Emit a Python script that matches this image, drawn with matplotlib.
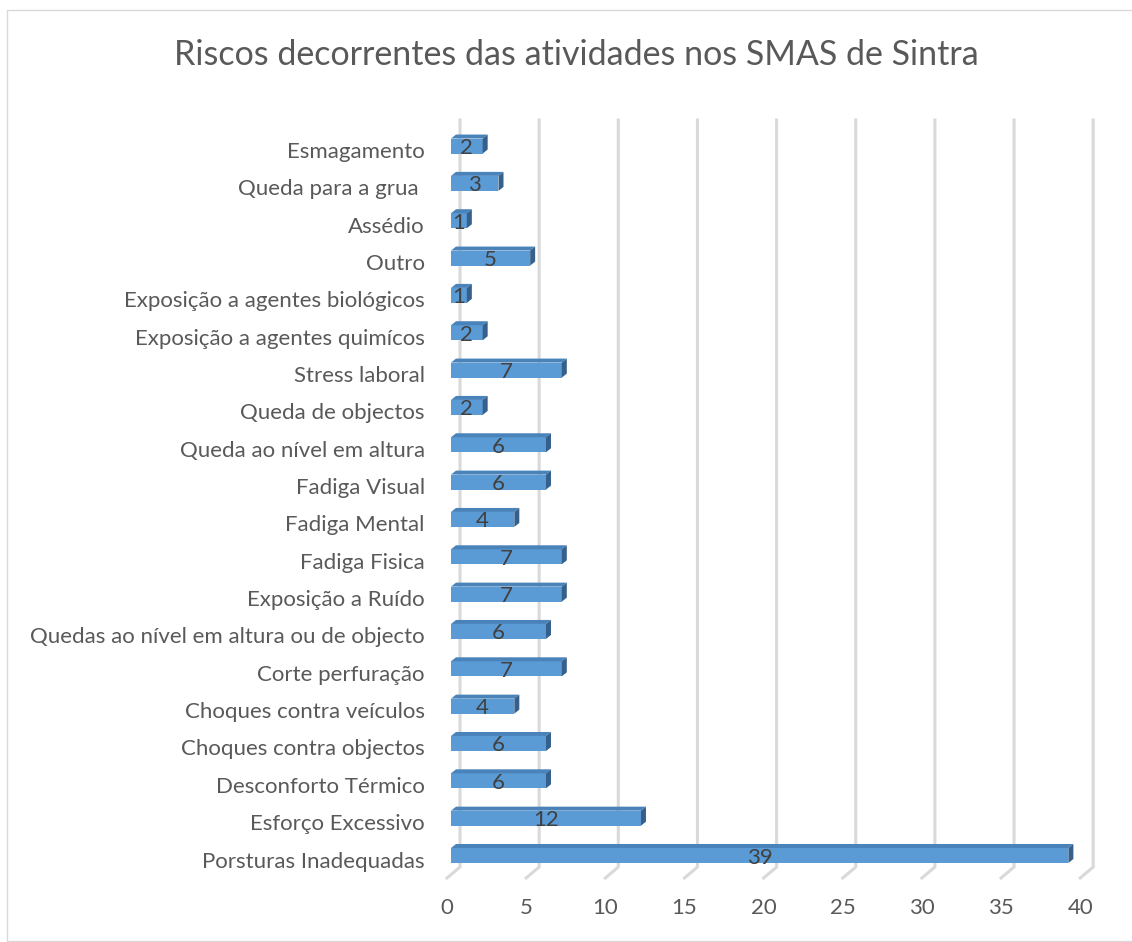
import matplotlib
matplotlib.use("Agg")
import matplotlib.pyplot as plt
from matplotlib.patches import Polygon, Rectangle
from matplotlib.transforms import ScaledTranslation

# === DATA (bottom to top) ===
CATEGORIES = [
    "Porsturas Inadequadas",
    "Esforço Excessivo",
    "Desconforto Térmico",
    "Choques contra objectos",
    "Choques contra veículos",
    "Corte perfuração",
    "Quedas ao nível em altura ou de objecto",
    "Exposição a Ruído",
    "Fadiga Fisica",
    "Fadiga Mental",
    "Fadiga Visual",
    "Queda ao nível em altura",
    "Queda de objectos",
    "Stress laboral",
    "Exposição a agentes quimícos",
    "Exposição a agentes biológicos",
    "Outro",
    "Assédio",
    "Queda para a grua ",
    "Esmagamento",
]
VALUES = [39, 12, 6, 6, 4, 7, 6, 7, 7, 4, 6, 6, 2, 7, 2, 1, 5, 1, 3, 2]
X_TICKS = [0, 5, 10, 15, 20, 25, 30, 35, 40]
TITLE = "Riscos decorrentes das atividades nos SMAS de Sintra"

# === STYLE ===
FRONT = "#5B9BD5"
TOP = "#4A82BA"
SIDE = "#35608C"
GRID = "#D9D9D9"
TEXT = "#595959"
LABEL = "#404040"
FONT = "Lato"

W, H, DPI = 1132, 942, 100
PX = 15.83   # pixels per x unit
PY = 37.34   # pixels per category
X0_PX = 451  # pixel of x=0 (bar front)
Y0_PX = 855.5  # pixel of first category centre

plt.rcParams["font.family"] = [FONT, "DejaVu Sans"]

fig = plt.figure(figsize=(W / DPI, H / DPI), dpi=DPI)
left_px, right_px, top_px, bot_px = 440, 1110, 110, 890
ax = fig.add_axes([left_px / W, (H - bot_px) / H,
                   (right_px - left_px) / W, (bot_px - top_px) / H])
ax.set_xlim((left_px - X0_PX) / PX, (right_px - X0_PX) / PX)
ax.set_ylim((Y0_PX - bot_px) / PY, (Y0_PX - top_px) / PY)


def dx(px):
    return px / PX


def dy(px):
    return px / PY


# 3D-style gridlines: back wall + floor slant
y_top = (Y0_PX - 120) / PY
y_back = (Y0_PX - 867) / PY
y_front = (Y0_PX - 878) / PY
for t in X_TICKS:
    xb = t + dx(9)
    xf = t + dx(-4)
    ax.plot([xb, xb, xf], [y_top, y_back, y_front], color=GRID, lw=2.2,
            solid_joinstyle="miter", zorder=1)

# bars
h = dy(15)
ddx, ddy = dx(5), dy(4)
ypos = list(range(len(CATEGORIES)))
ax.barh(ypos, VALUES, height=h, color=FRONT, zorder=3)
for y, v in zip(ypos, VALUES):
    yt = y + h / 2
    yb = y - h / 2
    ax.add_patch(Polygon([(0, yt), (v, yt), (v + ddx, yt + ddy), (ddx, yt + ddy)],
                         closed=True, facecolor=TOP, edgecolor="none", zorder=3))
    ax.add_patch(Polygon([(v, yb), (v, yt), (v + ddx, yt + ddy), (v + ddx, yb + ddy)],
                         closed=True, facecolor=SIDE, edgecolor="none", zorder=3))
    ax.text(v / 2, y - dy(2), str(v), ha="center", va="center",
            fontsize=16, color=LABEL, zorder=4)

# axes ticks
ax.set_yticks(ypos)
ax.set_yticklabels(CATEGORIES, fontsize=16, color=TEXT)
ax.set_xticks(X_TICKS)
ax.set_xticklabels([str(t) for t in X_TICKS], fontsize=16, color=TEXT)
ax.tick_params(axis="y", length=0, pad=11)
ax.tick_params(axis="x", length=0, pad=6)
for lab in ax.get_xticklabels():
    lab.set_transform(lab.get_transform() + ScaledTranslation(-4 / DPI, 0, fig.dpi_scale_trans))
for lab in ax.get_yticklabels():
    lab.set_transform(lab.get_transform() + ScaledTranslation(0, -4 / DPI, fig.dpi_scale_trans))
for s in ax.spines.values():
    s.set_visible(False)

fig.text(576 / W, (H - 55) / H, TITLE, ha="center", va="center",
         fontsize=24.5, color=TEXT)

# chart border
fig.patches.append(Rectangle((7 / W, 1 / H), (1140 - 7) / W, (941 - 10) / H,
                             transform=fig.transFigure, fill=False,
                             edgecolor=GRID, lw=1))

fig.savefig("out.png", dpi=DPI)
